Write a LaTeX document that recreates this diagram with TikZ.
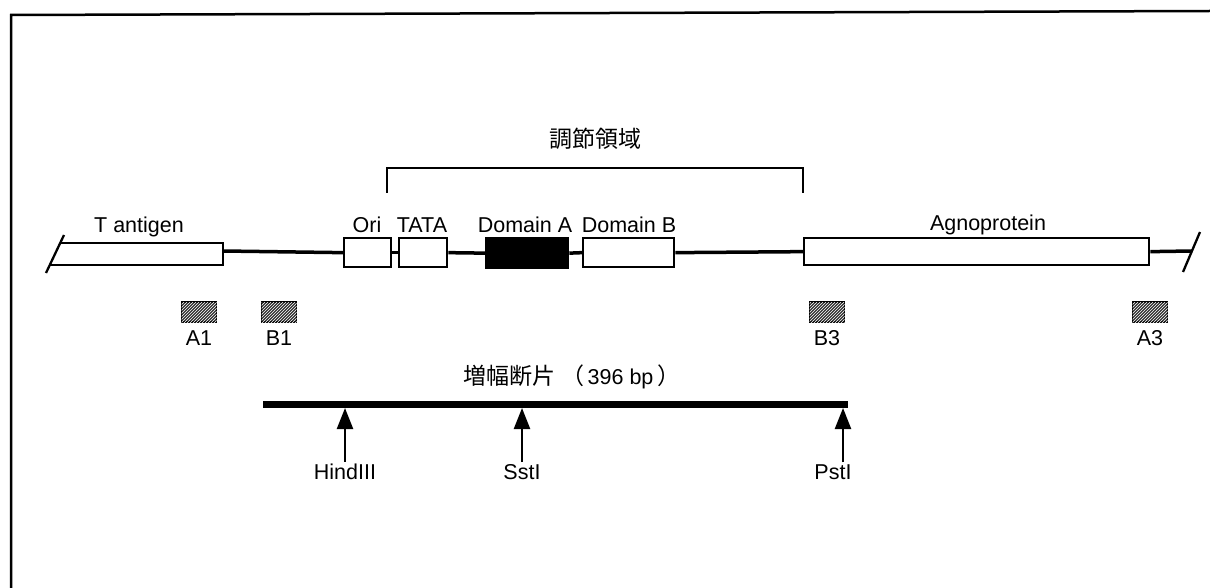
\documentclass[tikz,border=0pt]{standalone}
\usepackage{fontspec}
\setmainfont{Liberation Sans}
\newfontfamily\cjk{Noto Sans CJK JP}
\usetikzlibrary{arrows.meta,patterns}
\begin{document}
\begin{tikzpicture}[x=1pt,y=-1pt,
  lbl/.style={font=\fontsize{21.5}{24}\selectfont, inner sep=0},
  cjklbl/.style={font=\cjk\fontsize{23}{26}\selectfont, inner sep=0},
  gene/.style={draw, line width=2.3pt, fill=white, inner sep=0, anchor=north west},
  dom/.style={gene, fill=black},
  mainline/.style={line width=3.5pt},
  hatch/.style={draw, line width=1.5pt, fill=black!80, inner sep=0,
    minimum width=35, minimum height=20,
    postaction={pattern=north east lines, pattern color=white}},
  site/.style={line width=2.3pt, -{Triangle[length=21pt,width=16pt]}},
]
\useasboundingbox (0,0) rectangle (1210,588);
% frame (left and top edges only)
\coordinate (fb) at (11,588);
\coordinate (ftl) at (11,15);
\coordinate (ftr) at (1210,11);
\draw[line width=2.5pt] (fb) -- (ftl) -- (ftr);

% bracket over regulatory region
\coordinate (bl) at (387,193);
\coordinate (br) at (803,193);
\draw[line width=2.5pt] (bl) -- (bl |- 0,168) -- (br |- 0,168) -- (br);
\node[cjklbl] (reg) at (595,139) {調節領域};

% T antigen (open left end with slash)
\coordinate (tR) at (223,251);
\draw[line width=2.3pt] (60.6,243) -- (223,243) -- (223,265) -- (50,265);
\draw[line width=2.3pt] (46,273) -- (64,235);
\node[lbl] (tlab) at (139,227) {T antigen};

% boxes
\node[gene, minimum width=47, minimum height=29] (ori) at (343,237) {};
\node[gene, minimum width=48, minimum height=29] (tata) at (398,237) {};
\node[dom, minimum width=82, minimum height=30] (doma) at (485,237) {};
\node[gene, minimum width=91, minimum height=29] (domb) at (582,237) {};
\node[gene, minimum width=345, minimum height=27] (agno) at (803,237) {};

\node[lbl] (orilab) at (367,225) {Ori};
\node[lbl] (tatalab) at (422,225) {TATA};
\node[lbl] (domalab) at (525,225) {Domain A};
\node[lbl] (domblab) at (629,225) {Domain B};
\node[lbl] (agnolab) at (988,225) {Agnoprotein};

% main line
\coordinate (rs) at (1192,251);
\draw[mainline] (tR) -- (ori.west);
\draw[mainline] (ori.east) -- (tata.west);
\draw[mainline] (tata.east) -- (doma.west);
\draw[mainline] (doma.east) -- (domb.west);
\draw[mainline] (domb.east) -- (agno.west);
\draw[mainline] (agno.east) -- (rs);
\draw[line width=2.3pt] (1183,272) -- (1200,232);

% primers
\node[hatch] (a1) at (199,312) {};
\node[hatch] (b1) at (279,312) {};
\node[hatch] (b3) at (827,312) {};
\node[hatch] (a3) at (1150,312) {};
\node[lbl] (a1l) at (199,338) {A1};
\node[lbl] (b1l) at (279,338) {B1};
\node[lbl] (b3l) at (827,338) {B3};
\node[lbl] (a3l) at (1150,338) {A3};

% amplified fragment
\node[font=\fontsize{21.5}{24}\selectfont, inner sep=0] (amp) at (572,377) {{\cjk\fontsize{23}{26}\selectfont 増幅断片 （}\,396 bp\,{\cjk\fontsize{23}{26}\selectfont ）}};
\coordinate (fl) at (263,404);
\coordinate (fr) at (848,404);
\draw[line width=7pt] (fl) -- (fr);

\coordinate (hs) at (345,408);
\coordinate (ss) at (522,408);
\coordinate (ps) at (843,408);
\node[lbl] (hind) at (345,472) {HindIII};
\node[lbl] (sst) at (522,472) {SstI};
\node[lbl] (pst) at (833,472) {PstI};
\draw[site] (hs |- hind.north) ++(0,-2) -- (hs);
\draw[site] (ss |- sst.north) ++(0,-2) -- (ss);
\draw[site] (ps |- pst.north) ++(0,-2) -- (ps);
\end{tikzpicture}
\end{document}
